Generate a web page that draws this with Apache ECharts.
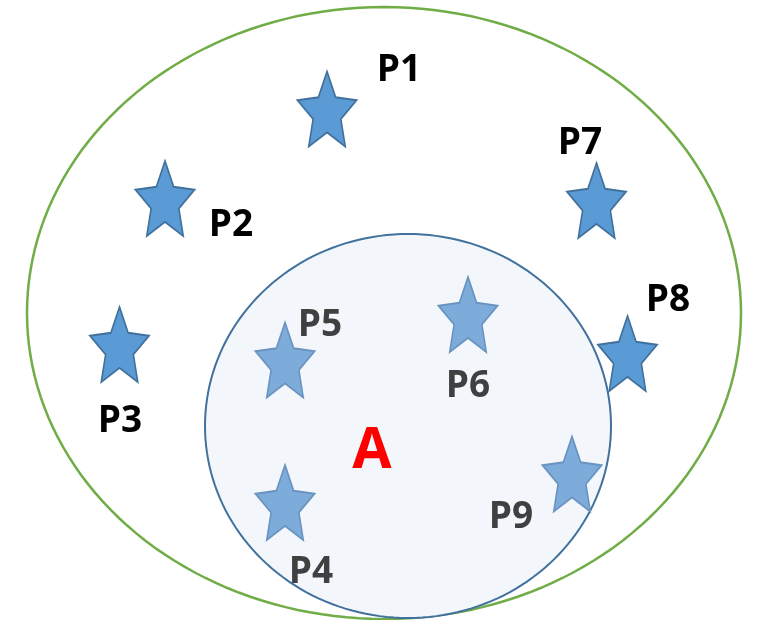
<!DOCTYPE html>
<html>
<head>
<meta charset="utf-8">
<script src="https://cdn.jsdelivr.net/npm/echarts@6/dist/echarts.min.js"></script>
<style>html,body{margin:0;padding:0;background:#fff;}#c{width:757px;height:620px;}</style>
</head>
<body>
<div id="c"></div>
<script>
// Regions (ellipses): name, centre x, centre y, radius x, radius y
const regionNames = ['U', 'A'];
const regionCX = [384, 408];
const regionCY = [313, 426];
const regionRX = [357, 203];
const regionRY = [306, 192];

// Outer points (outside A)
const outerNames = ['P1', 'P2', 'P3', 'P7', 'P8'];
const outerX = [327, 165, 119.5, 596.5, 627.5];
const outerY = [109, 198.5, 344.5, 200.5, 353.5];
const outerLabelX = [399, 231, 120, 580, 668];
const outerLabelY = [70.5, 225, 421, 143, 300];

// Inner points (inside A)
const innerNames = ['P5', 'P6', 'P4', 'P9'];
const innerX = [285, 468, 285, 572];
const innerY = [360, 314.5, 502.5, 474];
const innerLabelX = [320, 468, 311, 511];
const innerLabelY = [325, 386, 572, 517];

// Set label
const setLabel = 'A';
const setLabelX = 372;
const setLabelY = 452;

// star path
function starPath() {
  let pts = [];
  for (let i = 0; i < 10; i++) {
    const r = i % 2 === 0 ? 1 : 0.47;
    const a = -Math.PI / 2 + i * Math.PI / 5;
    pts.push((Math.cos(a) * r * 100).toFixed(2) + ',' + (Math.sin(a) * r * 100).toFixed(2));
  }
  return 'path://M' + pts.join('L') + 'Z';
}
const STAR = starPath();

const chart = echarts.init(document.getElementById('c'), null, {renderer: 'canvas'});

function ellipseRender(params, api) {
  const i = params.dataIndex;
  const cx = api.value(0), cy = api.value(1), rx = api.value(2), ry = api.value(3);
  const pts = [];
  for (let k = 0; k < 180; k++) {
    const t = k / 180 * Math.PI * 2;
    pts.push(api.coord([cx + rx * Math.cos(t), cy + ry * Math.sin(t)]));
  }
  const isA = i === 1;
  return {
    type: 'polygon',
    shape: {points: pts},
    style: {
      fill: isA ? '#F3F7FC' : 'rgba(0,0,0,0)',
      stroke: isA ? '#41719C' : '#70AD47',
      lineWidth: isA ? 2 : 2.5
    }
  };
}

const font = '"Open Sans", "Liberation Sans", sans-serif';
const hidden = {color: 'rgba(0,0,0,0)', opacity: 1};

chart.setOption({
  animation: false,
  backgroundColor: '#ffffff',
  grid: {left: 0, right: 0, top: 0, bottom: 0},
  xAxis: {type: 'value', min: 0, max: 757, show: false},
  yAxis: {type: 'value', min: 0, max: 620, inverse: true, show: false},
  series: [
    {
      type: 'custom',
      renderItem: ellipseRender,
      data: regionNames.map((n, i) => [regionCX[i], regionCY[i], regionRX[i], regionRY[i]]),
      z: 1
    },
    {
      type: 'scatter',
      symbol: STAR,
      symbolSize: [59, 75],
      symbolKeepAspect: false,
      itemStyle: {color: '#5B9BD5', borderColor: '#41719C', borderWidth: 1.8, opacity: 1},
      data: outerNames.map((n, i) => [outerX[i], outerY[i]]),
      z: 3
    },
    {
      type: 'scatter',
      symbol: STAR,
      symbolSize: [59, 75],
      symbolKeepAspect: false,
      itemStyle: {color: '#7DACDB', borderColor: '#6A93C0', borderWidth: 1.8, opacity: 1},
      data: innerNames.map((n, i) => [innerX[i], innerY[i]]),
      z: 3
    },
    {
      type: 'scatter',
      symbolSize: 1,
      itemStyle: hidden,
      label: {show: true, position: 'inside', formatter: p => p.name, opacity: 1,
        fontFamily: font, fontWeight: 'bold', fontSize: 37, color: '#000000'},
      data: outerNames.map((n, i) => ({name: n, value: [outerLabelX[i], outerLabelY[i]]})),
      z: 4
    },
    {
      type: 'scatter',
      symbolSize: 1,
      itemStyle: hidden,
      label: {show: true, position: 'inside', formatter: p => p.name, opacity: 1,
        fontFamily: font, fontWeight: 'bold', fontSize: 37, color: '#404040'},
      data: innerNames.map((n, i) => ({name: n, value: [innerLabelX[i], innerLabelY[i]]})),
      z: 4
    },
    {
      type: 'scatter',
      symbolSize: 1,
      itemStyle: hidden,
      label: {show: true, position: 'inside', formatter: p => p.name, opacity: 1,
        fontFamily: font, fontWeight: 'bold', fontSize: 57, color: '#FF0000'},
      data: [{name: setLabel, value: [setLabelX, setLabelY]}],
      z: 4
    }
  ]
});
</script>
</body>
</html>
